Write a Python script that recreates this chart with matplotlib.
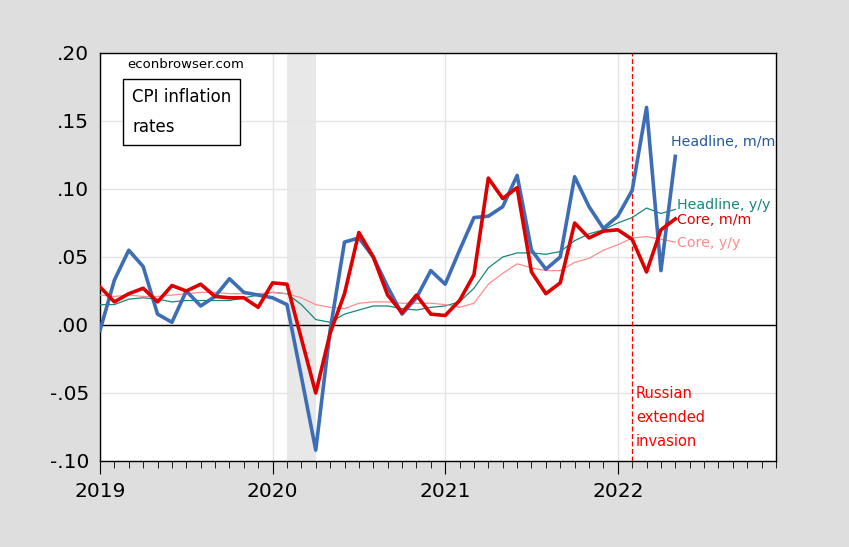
import numpy as np
import matplotlib
matplotlib.use('Agg')
from matplotlib import pyplot as plt

# monthly, Jan 2019 .. May 2022 (annualized log changes)
headline_mm = [-0.004, 0.033, 0.055, 0.043, 0.008, 0.002, 0.025, 0.014, 0.021, 0.034, 0.024, 0.022,
               0.020, 0.015, -0.038, -0.092, -0.004, 0.061, 0.064, 0.050, 0.028, 0.008, 0.020, 0.040,
               0.030, 0.055, 0.079, 0.080, 0.087, 0.110, 0.055, 0.041, 0.050, 0.109, 0.087, 0.071,
               0.080, 0.099, 0.160, 0.040, 0.124]
core_mm = [0.028, 0.017, 0.023, 0.027, 0.017, 0.029, 0.025, 0.030, 0.021, 0.020, 0.020, 0.013,
           0.031, 0.030, -0.010, -0.050, -0.006, 0.023, 0.068, 0.050, 0.022, 0.009, 0.022, 0.008,
           0.007, 0.018, 0.037, 0.108, 0.093, 0.101, 0.039, 0.023, 0.031, 0.075, 0.064, 0.069,
           0.070, 0.063, 0.039, 0.070, 0.078]
headline_yy = [0.015, 0.015, 0.019, 0.020, 0.019, 0.017, 0.018, 0.018, 0.018, 0.018, 0.020, 0.022,
               0.024, 0.023, 0.015, 0.004, 0.002, 0.008, 0.011, 0.014, 0.014, 0.012, 0.011, 0.013,
               0.014, 0.017, 0.027, 0.042, 0.050, 0.053, 0.053, 0.052, 0.054, 0.062, 0.067, 0.070,
               0.075, 0.079, 0.086, 0.082, 0.085]
core_yy = [0.022, 0.021, 0.022, 0.021, 0.021, 0.022, 0.023, 0.024, 0.024, 0.023, 0.023, 0.023,
           0.024, 0.023, 0.020, 0.015, 0.013, 0.012, 0.016, 0.017, 0.017, 0.016, 0.016, 0.016,
           0.015, 0.013, 0.016, 0.030, 0.038, 0.045, 0.042, 0.040, 0.040, 0.046, 0.049, 0.055,
           0.059, 0.064, 0.065, 0.063, 0.061]
years = ['2019', '2020', '2021', '2022']
yticks = [-0.10, -0.05, 0.00, 0.05, 0.10, 0.15, 0.20]
ylabels = ['-.10', '-.05', '.00', '.05', '.10', '.15', '.20']

months = np.arange(len(headline_mm))

blue = '#3d6db5'
red = '#dd0000'
teal = '#17877c'
pink = '#ff8c8c'

fig = plt.figure(figsize=(8.49, 5.47), dpi=100, facecolor='#dedede')
ax = fig.add_axes([100/849, 1-461/547, 676/849, 408/547])
ax.set_facecolor('white')

ax.axvspan(13, 15, color='#e8e8e8', lw=0, zorder=0)
ax.axhline(0, color='black', lw=1.0, zorder=1)
ax.axvline(37, color='red', lw=0.9, ls=(0, (4, 2)), zorder=2)

ax.plot(months, headline_yy, color=teal, lw=0.9, zorder=3)
ax.plot(months, core_yy, color=pink, lw=0.9, zorder=3)
ax.plot(months, headline_mm, color=blue, lw=2.6, zorder=4)
ax.plot(months, core_mm, color=red, lw=2.6, zorder=5)

ax.set_xlim(0, 47)
ax.set_ylim(-0.10, 0.20)
ax.set_yticks(yticks)
ax.set_yticklabels(ylabels, fontsize=14.5)
ax.set_xticks([0, 12, 24, 36])
ax.set_xticklabels(years, fontsize=14.5)
ax.set_xticks(np.arange(0, 48), minor=True)
ax.tick_params(axis='x', which='major', length=9, direction='out', pad=6)
ax.tick_params(axis='x', which='minor', length=5, direction='out')
ax.tick_params(axis='y', which='major', length=0, pad=8)
ax.grid(True, color='#e4e4e4', lw=1.0, zorder=0)
ax.set_axisbelow(True)
for s in ax.spines.values():
    s.set_color('black')
    s.set_linewidth(1.0)

ax.text(127/849, 1-65/547, 'econbrowser.com', transform=fig.transFigure, fontsize=9.5,
        va='center', ha='left')
ax.text(132/849, 1-112/547, 'CPI inflation\nrates', transform=fig.transFigure, fontsize=12,
        va='center', ha='left', linespacing=1.9,
        bbox=dict(boxstyle='square,pad=0.55', fc='white', ec='black', lw=1.0))

ax.text(671/849, 1-142/547, 'Headline, m/m', transform=fig.transFigure, color='#245aa0',
        fontsize=10.3, va='center')
ax.text(677/849, 1-205/547, 'Headline, y/y', transform=fig.transFigure, color=teal,
        fontsize=10.3, va='center')
ax.text(677/849, 1-220/547, 'Core, m/m', transform=fig.transFigure, color=red,
        fontsize=10.3, va='center')
ax.text(677/849, 1-243/547, 'Core, y/y', transform=fig.transFigure, color=pink,
        fontsize=10.3, va='center')
ax.text(636/849, 1-418/547, 'Russian\nextended\ninvasion', transform=fig.transFigure,
        color='red', fontsize=10.5, va='center', linespacing=1.75)

fig.savefig('out.png', dpi=100, facecolor=fig.get_facecolor())
